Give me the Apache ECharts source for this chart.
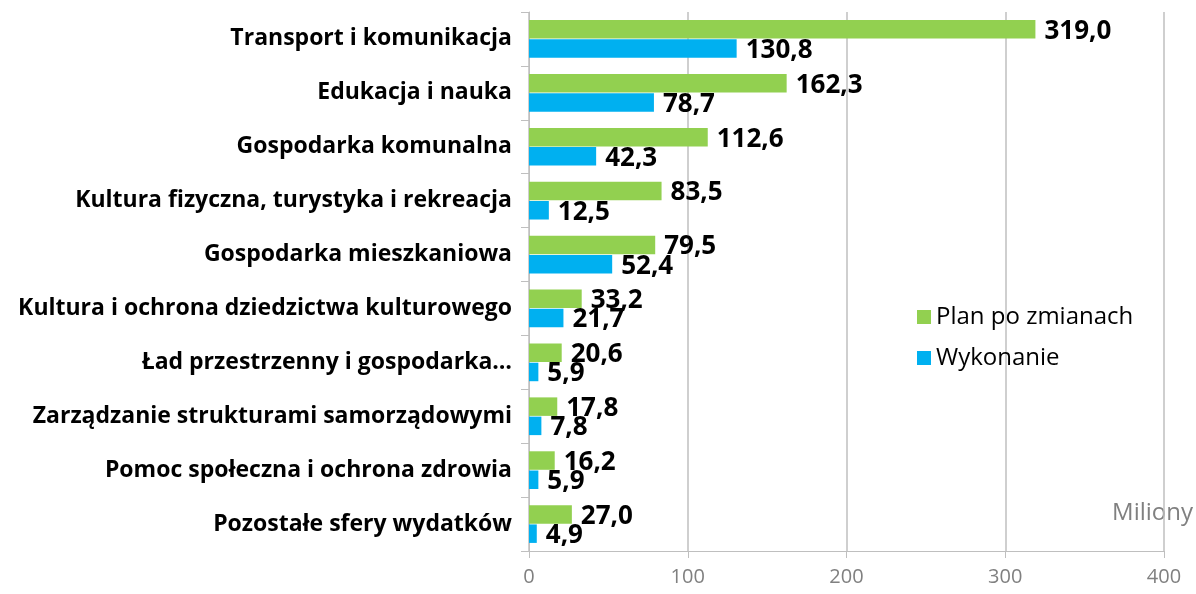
<!DOCTYPE html>
<html>
<head>
<meta charset="utf-8">
<script src="https://cdn.jsdelivr.net/npm/echarts@6/dist/echarts.min.js"></script>
<style>
  html, body { margin: 0; padding: 0; background: #fff; }
  #chart { width: 1196px; height: 594px; }
</style>
</head>
<body>
<div id="chart"></div>
<script>
const categories = [
  'Transport i komunikacja',
  'Edukacja i nauka',
  'Gospodarka komunalna',
  'Kultura fizyczna, turystyka i rekreacja',
  'Gospodarka mieszkaniowa',
  'Kultura i ochrona dziedzictwa kulturowego',
  'Ład przestrzenny i gospodarka…',
  'Zarządzanie strukturami samorządowymi',
  'Pomoc społeczna i ochrona zdrowia',
  'Pozostałe sfery wydatków'
]
const planValues = [319.0, 162.3, 112.6, 83.5, 79.5, 33.2, 20.6, 17.8, 16.2, 27.0]
const doneValues = [130.8, 78.7, 42.3, 12.5, 52.4, 21.7, 5.9, 7.8, 5.9, 4.9]

const FONT = '"Open Sans", sans-serif'
const THEME = { green: '#92d050', blue: '#00b0f0', grid: '#bfbfbf', muted: '#808080' }

const chart = echarts.init(document.getElementById('chart'), null, { renderer: 'canvas' })

const valueLabel = {
  show: true,
  position: 'right',
  distance: 9,
  offset: [0, 2],
  color: '#000',
  fontWeight: 'bold',
  fontSize: 26,
  fontFamily: FONT,
  formatter: p => p.value.toFixed(1).replace('.', ',')
}

chart.setOption({
  backgroundColor: '#fff',
  animation: false,
  grid: { left: 529, right: 32, top: 12, bottom: 43 },
  legend: {
    orient: 'vertical',
    left: 912,
    top: 300,
    itemWidth: 14,
    itemHeight: 14,
    itemGap: 17,
    icon: 'rect',
    textStyle: { fontFamily: FONT, fontSize: 24, color: '#000' },
    data: ['Plan po zmianach', 'Wykonanie']
  },
  graphic: [{
    type: 'text',
    right: 3,
    top: 501,
    style: { text: 'Miliony', fontFamily: FONT, fontSize: 24, fill: THEME.muted, backgroundColor: '#fff' }
  }],
  xAxis: {
    type: 'value',
    min: 0,
    max: 400,
    interval: 100,
    axisLine: { show: true, lineStyle: { color: THEME.grid } },
    axisTick: { show: true, length: 7, lineStyle: { color: THEME.grid } },
    axisLabel: { color: THEME.muted, fontSize: 20, fontFamily: FONT, margin: 16 },
    splitLine: { lineStyle: { color: THEME.grid, width: 1.5 } }
  },
  yAxis: {
    type: 'category',
    inverse: true,
    data: categories,
    axisLine: { lineStyle: { color: THEME.grid } },
    axisTick: { show: true, length: 8, lineStyle: { color: THEME.grid } },
    axisLabel: { color: '#000', fontWeight: 'bold', fontSize: 23, fontFamily: FONT, margin: 17 }
  },
  series: [
    {
      name: 'Plan po zmianach',
      type: 'bar',
      data: planValues,
      barGap: '4%',
      barCategoryGap: '30%',
      itemStyle: { color: THEME.green },
      label: valueLabel
    },
    {
      name: 'Wykonanie',
      type: 'bar',
      data: doneValues,
      itemStyle: { color: THEME.blue },
      label: valueLabel
    }
  ]
})
</script>
</body>
</html>
